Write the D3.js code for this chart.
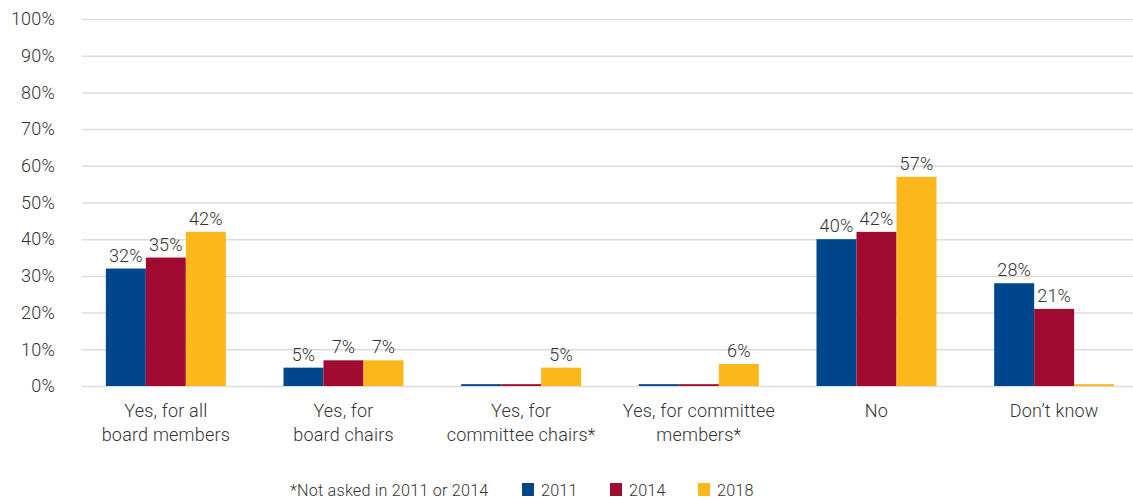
<!DOCTYPE html>
<html>
<head>
<meta charset="utf-8">
<script src="https://cdn.jsdelivr.net/npm/d3@7"></script>
<style>
  html, body { margin: 0; padding: 0; background: #fff; }
  svg text { font-family: Roboto, "Liberation Sans", sans-serif; font-weight: 300; font-size: 18px; letter-spacing: 0.2px; }
  svg text.legend { font-size: 16.2px; }
</style>
</head>
<body>
<svg id="chart" width="1133" height="500"></svg>
<script>
// Categories (two-line labels) and yearly series, in percent.
const categories = [
  ["Yes, for all", "board members"],
  ["Yes, for", "board chairs"],
  ["Yes, for", "committee chairs*"],
  ["Yes, for committee", "members*"],
  ["No"],
  ["Don\u2019t know"]
];
const years = ["2011", "2014", "2018"];
const values2011 = [32, 5, 0.5, 0.5, 40, 28];
const values2014 = [35, 7, 0.5, 0.5, 42, 21];
const values2018 = [42, 7, 5, 6, 57, 0.5];
const yTicks = [0, 10, 20, 30, 40, 50, 60, 70, 80, 90, 100];
const footnote = "*Not asked in 2011 or 2014";
const colors = ["#00468d", "#a20b31", "#fcb71a"];

const series = [values2011, values2014, values2018];
const svg = d3.select("#chart");

const y = d3.scaleLinear().domain([0, 100]).range([386, 19]);
const x = d3.scaleBand().domain(d3.range(categories.length)).range([77, 1143]);
const xs = d3.scaleBand().domain(d3.range(years.length)).range([0, 120]);

// Gridlines and y tick labels
const yAxis = d3.axisLeft(y).tickValues(yTicks).tickFormat(d => d + "%").tickSize(-1051).tickPadding(27);
const gAxis = svg.append("g").attr("transform", "translate(82,0)").call(yAxis);
gAxis.select(".domain").remove();
gAxis.selectAll(".tick line").attr("stroke", "#dcdcdc").attr("stroke-width", 1.5);
gAxis.selectAll(".tick text").attr("fill", "#333").attr("font-size", null).attr("font-family", null);

// Bars
const groups = svg.append("g").selectAll("g")
  .data(categories)
  .join("g")
  .attr("transform", (d, i) => `translate(${x(i) + x.bandwidth() / 2 - 60},0)`);

groups.selectAll("rect")
  .data((d, i) => series.map((s, k) => ({ k, v: s[i] })))
  .join("rect")
  .attr("x", d => xs(d.k))
  .attr("width", xs.bandwidth())
  .attr("y", d => y(d.v))
  .attr("height", d => y(0) - y(d.v))
  .attr("fill", d => colors[d.k]);

// Value labels (only for answered questions)
groups.selectAll("text.val")
  .data((d, i) => series.map((s, k) => ({ k, v: s[i] })).filter(d => d.v >= 1))
  .join("text")
  .attr("class", "val")
  .attr("x", d => xs(d.k) + xs.bandwidth() / 2)
  .attr("y", d => y(d.v) - 7)
  .attr("text-anchor", "middle")
  .attr("fill", "#333")
  .text(d => Math.round(d.v) + "%");

// Category labels
groups.append("text")
  .attr("text-anchor", "middle")
  .attr("fill", "#333")
  .selectAll("tspan")
  .data(d => d)
  .join("tspan")
  .attr("x", 60)
  .attr("y", (d, i) => 417 + i * 23.5)
  .text(d => d);

// Footnote and legend
const legend = svg.append("g");
legend.append("text")
  .attr("class", "legend")
  .attr("x", 290).attr("y", 496)
  .attr("fill", "#333")
  .text(footnote);
const legendX = [522, 610, 698];
years.forEach((yr, k) => {
  legend.append("rect").attr("x", legendX[k]).attr("y", 483).attr("width", 12).attr("height", 13).attr("fill", colors[k]);
  legend.append("text").attr("class", "legend").attr("x", legendX[k] + 19).attr("y", 496)
    .attr("fill", "#333").text(yr);
});
</script>
</body>
</html>
